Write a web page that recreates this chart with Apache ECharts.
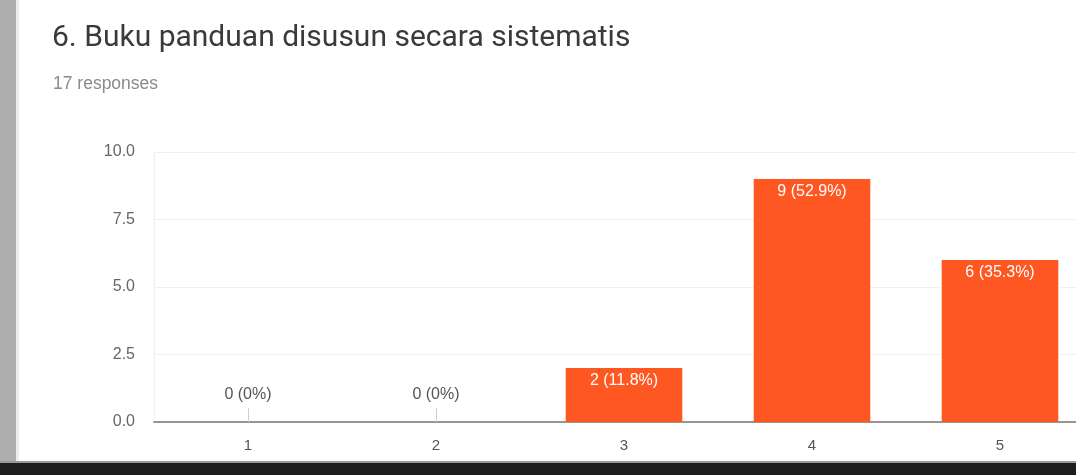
<!DOCTYPE html>
<html>
<head>
<meta charset="utf-8">
<script src="https://cdn.jsdelivr.net/npm/echarts@6/dist/echarts.min.js"></script>
<style>
html,body{margin:0;padding:0;background:#fff;}
#c{width:1076px;height:475px;}
</style>
</head>
<body>
<div id="c"></div>
<script>
const titleText = "6. Buku panduan disusun secara sistematis";
const subtitleText = "17 responses";
const categories = ["1", "2", "3", "4", "5"];
const counts = [0, 0, 2, 9, 6];
const percents = ["0%", "0%", "11.8%", "52.9%", "35.3%"];
const yTicks = [0, 2.5, 5, 7.5, 10];

const chart = echarts.init(document.getElementById('c'));
const data = counts.map((v, i) => ({
  value: v,
  label: v === 0
    ? { show: true, position: 'top', distance: 19, color: '#555', fontSize: 16 }
    : { show: true, position: 'insideTop', distance: 5, color: '#fff', fontSize: 16 }
}));

chart.setOption({
  animation: false,
  backgroundColor: '#fff',
  title: [
    { text: titleText, left: 47, top: 18,
      textStyle: { fontFamily: 'Roboto', fontSize: 30, fontWeight: 'normal', color: '#3a3a3a' } },
    { text: subtitleText, left: 48, top: 70,
      textStyle: { fontFamily: 'Liberation Sans', fontSize: 17.5, fontWeight: 'normal', color: '#8a8a8a' } }
  ],
  graphic: [
    { type: 'rect', shape: { x: 0, y: 0, width: 16, height: 475 }, style: { fill: '#adadad' }, z: 100 },
    { type: 'rect', shape: { x: 16, y: 0, width: 3, height: 475 }, style: { fill: '#ececec' }, z: 100 },
    { type: 'rect', shape: { x: 0, y: 461, width: 1076, height: 2 }, style: { fill: '#9a9a9a' }, z: 101 },
    { type: 'rect', shape: { x: 0, y: 463, width: 1076, height: 12 }, style: { fill: '#1e1e1e' }, z: 101 }
  ],
  grid: { left: 154, width: 940, top: 152, bottom: 53, containLabel: false, outerBoundsMode: 'none' },
  xAxis: {
    type: 'category',
    data: categories,
    axisLine: { show: true, lineStyle: { color: '#9b948c', width: 2 } },
    axisTick: { show: true, inside: true, alignWithLabel: true, length: 14, lineStyle: { color: '#cfcfcf' } },
    axisLabel: { color: '#555', fontSize: 15, fontFamily: 'Liberation Sans', margin: 16 }
  },
  yAxis: {
    type: 'value',
    min: yTicks[0],
    max: yTicks[yTicks.length - 1],
    interval: yTicks[1] - yTicks[0],
    axisLine: { show: true, lineStyle: { color: '#f0f0f0' } },
    axisTick: { show: false },
    splitLine: { lineStyle: { color: '#f0f0f0' } },
    axisLabel: { color: '#666', fontSize: 16, fontFamily: 'Liberation Sans', margin: 19,
      formatter: v => v.toFixed(1) }
  },
  series: [{
    type: 'bar',
    data: data,
    barWidth: '62%',
    itemStyle: { color: '#ff5722' },
    label: {
      formatter: p => counts[p.dataIndex] + ' (' + percents[p.dataIndex] + ')',
      fontFamily: 'Liberation Sans'
    }
  }]
});
</script>
</body>
</html>
